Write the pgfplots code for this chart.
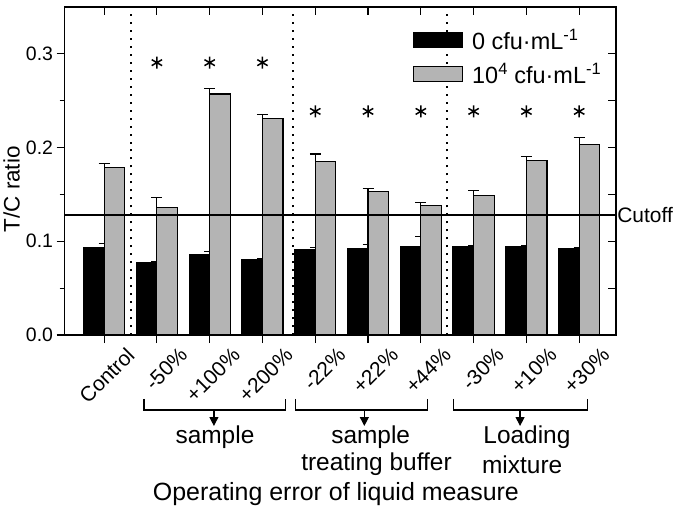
\documentclass[border=0pt]{standalone}
\usepackage{pgfplots}
\usepackage{pgfplotstable}
\pgfplotsset{compat=1.18}
\usetikzlibrary{arrows.meta}
\usepackage{fontspec}
\setmainfont{Liberation Sans}
\definecolor{bargray}{RGB}{180,180,180}

\pgfplotstableread{
x b be g ge
0 0.0936 0.004 0.179 0.004
1 0.0777 0.001 0.136 0.011
2 0.0853 0.004 0.257 0.006
3 0.0800 0.001 0.2305 0.0045
4 0.0915 0.002 0.185 0.008
5 0.0925 0.004 0.1535 0.003
6 0.0945 0.011 0.138 0.003
7 0.0940 0.001 0.149 0.005
8 0.0940 0.001 0.186 0.004
9 0.0925 0.001 0.203 0.008
}\datatable

\begin{document}
\begin{tikzpicture}
\begin{axis}[
  at={(0pt,0pt)}, anchor=south west,
  width=553pt, height=329pt, scale only axis,
  xmin=-0.75, xmax=9.7, ymin=0, ymax=0.35,
  clip=false,
  axis line style={line width=1.4pt},
  xtick={0,...,9},
  xticklabels={Control,-50\%,+100\%,+200\%,-22\%,+22\%,+44\%,-30\%,+10\%,+30\%},
  ytick={0,0.1,0.2,0.3}, minor ytick={0.05,0.15,0.25},
  xtick pos=left, ytick pos=left, tick align=outside,
  major tick length=8pt, minor tick length=5pt,
  every tick/.style={line width=1.2pt, black},
  /pgf/number format/assume math mode=true,
  y tick label style={font=\fontsize{19.5}{19.5}\selectfont, /pgf/number format/fixed, /pgf/number format/fixed zerofill, /pgf/number format/precision=1},
  x tick label style={font=\fontsize{21}{21}\selectfont, anchor=east, xshift=29pt, yshift=-6pt, rotate=45},
  ylabel={T/C ratio},
  ylabel style={at={(axis description cs:-0.096,0.444)}, anchor=center, font=\fontsize{22.5}{22.5}\selectfont},
  xlabel={Operating error of liquid measure},
  xlabel style={at={(axis description cs:0.492,-0.486)}, anchor=center, font=\fontsize{25}{25}\selectfont},
  legend style={at={(axis description cs:0.628,0.945)}, anchor=north west, draw=none, fill=none,
     font=\fontsize{23.5}{23.5}\selectfont, row sep=8pt, inner sep=2pt},
  legend cell align=left,
]
\addplot[ybar, bar width=0.39, bar shift=-0.195, fill=black, draw=black, line width=1.2pt,
  legend image code/.code={\draw[fill=black, draw=black, line width=1.2pt] (0pt,-7.5pt) rectangle (49pt,7.5pt);},
  error bars/.cd, y dir=plus, y explicit,
  error bar style={line width=1.2pt, black},
  error mark options={rotate=90, mark size=5.5pt, line width=1.2pt, black}]
  table[x=x, y=b, y error=be] {\datatable};
\addlegendentry{\hspace{7pt}0 cfu·mL\textsuperscript{-1}}
\addplot[ybar, bar width=0.39, bar shift=0.195, fill=bargray, draw=black, line width=1.2pt,
  legend image code/.code={\draw[fill=bargray, draw=black, line width=1.2pt] (0pt,-7.5pt) rectangle (49pt,7.5pt);},
  error bars/.cd, y dir=plus, y explicit,
  error bar style={line width=1.2pt, black},
  error mark options={rotate=90, mark size=5.5pt, line width=1.2pt, black}]
  table[x=x, y=g, y error=ge] {\datatable};
\addlegendentry{\hspace{7pt}10\textsuperscript{4} cfu·mL\textsuperscript{-1}}

% cutoff line
\addplot[black, line width=1.2pt, forget plot] coordinates {(-0.75,0.128) (9.7,0.128)};
% dotted separators
\addplot[black, line width=2pt, dash pattern=on 2pt off 6pt, forget plot] coordinates {(0.5,0) (0.5,0.35)};
\addplot[black, line width=2pt, dash pattern=on 2pt off 6pt, forget plot] coordinates {(3.58,0) (3.58,0.35)};
\addplot[black, line width=2pt, dash pattern=on 2pt off 6pt, forget plot] coordinates {(6.5,0) (6.5,0.35)};
% asterisks
\addplot[only marks, mark=asterisk, mark size=6pt, mark options={line width=1.5pt, black}, forget plot]
  coordinates {(1,0.2905) (2,0.2905) (3,0.2905)};
\addplot[only marks, mark=asterisk, mark size=6pt, mark options={line width=1.5pt, black}, forget plot]
  coordinates {(4,0.2385) (5,0.2385) (6,0.2385) (7,0.2385) (8,0.2385) (9,0.2385)};

\node[anchor=west, font=\fontsize{21}{21}\selectfont, inner sep=1pt] at (axis cs:9.7,0.128) {Cutoff};

% brackets
\draw[line width=1.2pt] (axis cs:0.756,-0.068) -- (axis cs:0.756,-0.080) -- (axis cs:3.44,-0.080) -- (axis cs:3.44,-0.068);
\draw[line width=1.2pt] (axis cs:3.63,-0.068) -- (axis cs:3.63,-0.080) -- (axis cs:6.12,-0.080) -- (axis cs:6.12,-0.068);
\draw[line width=1.2pt] (axis cs:6.62,-0.068) -- (axis cs:6.62,-0.080) -- (axis cs:9.15,-0.080) -- (axis cs:9.15,-0.068);
\draw[line width=1.2pt, -{Triangle[length=9pt,width=9pt]}] (axis cs:2.08,-0.080) -- (axis cs:2.08,-0.097);
\draw[line width=1.2pt, -{Triangle[length=9pt,width=9pt]}] (axis cs:4.93,-0.080) -- (axis cs:4.93,-0.097);
\draw[line width=1.2pt, -{Triangle[length=9pt,width=9pt]}] (axis cs:7.88,-0.080) -- (axis cs:7.88,-0.097);
\node[font=\fontsize{24.5}{24.5}\selectfont] at (axis cs:2.10,-0.1085) {sample};
\node[font=\fontsize{24.5}{24.5}\selectfont] at (axis cs:5.05,-0.1085) {sample};
\node[font=\fontsize{24.5}{24.5}\selectfont] at (axis cs:5.16,-0.138) {treating buffer};
\node[font=\fontsize{24.5}{24.5}\selectfont] at (axis cs:8.01,-0.1085) {Loading};
\node[font=\fontsize{24.5}{24.5}\selectfont] at (axis cs:7.92,-0.138) {mixture};
\end{axis}
\begin{axis}[
  at={(0pt,0pt)}, anchor=south west,
  width=553pt, height=329pt, scale only axis,
  xmin=-0.75, xmax=9.7, ymin=0, ymax=0.35,
  axis line style={line width=1.4pt},
  xtick={0,...,9}, xticklabels={},
  ytick={0,0.05,0.1,0.15,0.2,0.25,0.3}, yticklabels={},
  xtick pos=right, ytick pos=right, tick align=inside,
  major tick length=8pt,
  every tick/.style={line width=1.2pt, black},
]
\addplot[draw=none, forget plot] coordinates {(0,0) (1,0)};
\end{axis}
\path (-63pt,-176pt) rectangle (612pt,332pt);
\end{tikzpicture}
\end{document}
